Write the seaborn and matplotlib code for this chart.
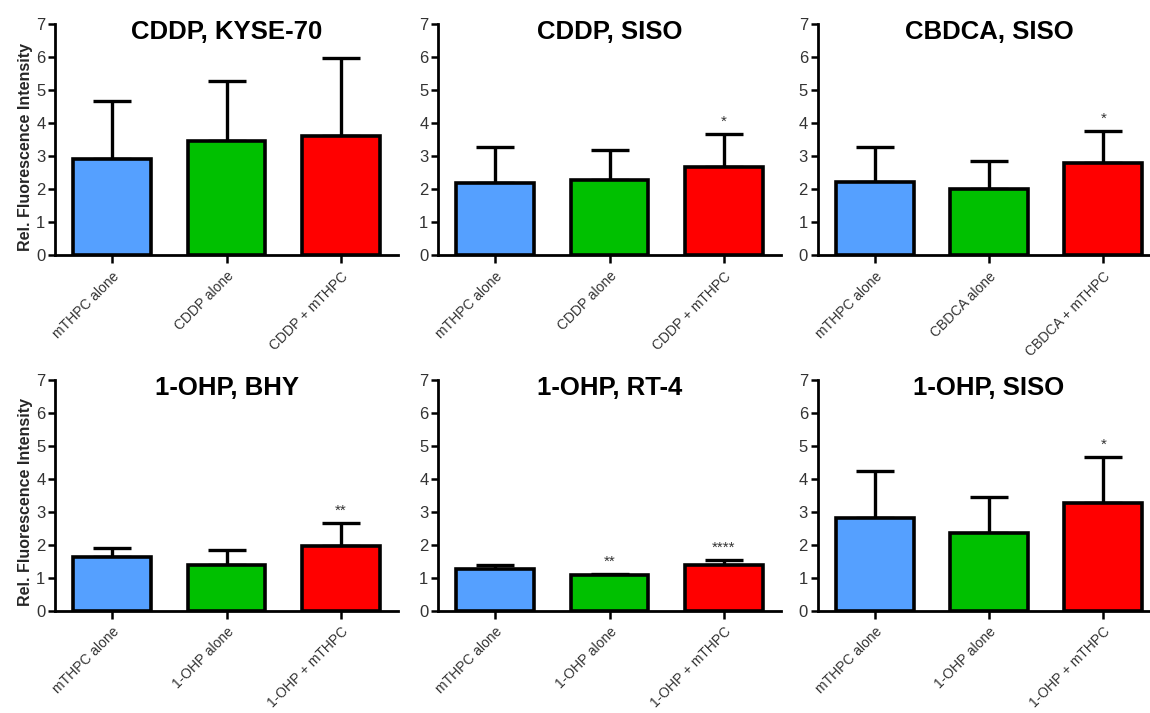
import matplotlib
matplotlib.use("Agg")
import matplotlib.pyplot as plt
import seaborn as sns
import pandas as pd

# ---- data ----
titles = ["CDDP, KYSE-70", "CDDP, SISO", "CBDCA, SISO",
          "1-OHP, BHY", "1-OHP, RT-4", "1-OHP, SISO"]
cats_cddp = ["mTHPC alone", "CDDP alone", "CDDP + mTHPC"]
cats_cbdca = ["mTHPC alone", "CBDCA alone", "CBDCA + mTHPC"]
cats_ohp = ["mTHPC alone", "1-OHP alone", "1-OHP + mTHPC"]

means_p1 = [2.91, 3.45, 3.61]
tops_p1 = [4.68, 5.27, 5.98]
means_p2 = [2.19, 2.27, 2.66]
tops_p2 = [3.27, 3.18, 3.67]
means_p3 = [2.23, 2.01, 2.79]
tops_p3 = [3.28, 2.86, 3.75]
means_p4 = [1.64, 1.41, 1.98]
tops_p4 = [1.91, 1.86, 2.67]
means_p5 = [1.27, 1.08, 1.39]
tops_p5 = [1.40, 1.11, 1.54]
means_p6 = [2.83, 2.37, 3.26]
tops_p6 = [4.25, 3.45, 4.67]

sig_p1 = ["", "", ""]
sig_p2 = ["", "", "*"]
sig_p3 = ["", "", "*"]
sig_p4 = ["", "", "**"]
sig_p5 = ["", "**", "****"]
sig_p6 = ["", "", "*"]

yticks = [0, 1, 2, 3, 4, 5, 6, 7]
ylabel = "Rel. Fluorescence Intensity"
bar_colors = ["#55A0FF", "#00C000", "#FF0000"]

panels = [
    (cats_cddp, means_p1, tops_p1, sig_p1),
    (cats_cddp, means_p2, tops_p2, sig_p2),
    (cats_cbdca, means_p3, tops_p3, sig_p3),
    (cats_ohp, means_p4, tops_p4, sig_p4),
    (cats_ohp, means_p5, tops_p5, sig_p5),
    (cats_ohp, means_p6, tops_p6, sig_p6),
]

sns.set_style("white")
plt.rcParams['font.family'] = ['Liberation Sans', 'DejaVu Sans']

fig = plt.figure(figsize=(11.5, 7.13), dpi=100)
lefts = [0.048, 0.381, 0.711]
bottoms = [0.642, 0.143]
w, h = 0.298, 0.324

for i, (cats, means, tops, sigs) in enumerate(panels):
    r, c = divmod(i, 3)
    ax = fig.add_axes([lefts[c], bottoms[r], w, h])
    df = pd.DataFrame({"cat": cats, "val": means})
    sns.barplot(data=df, x="cat", y="val", hue="cat", palette=bar_colors,
                order=cats, hue_order=cats, width=0.68, edgecolor="black",
                linewidth=2.6, errorbar=None, legend=False, ax=ax, zorder=2,
                saturation=1)
    up = [t - m for t, m in zip(tops, means)]
    ax.errorbar(range(3), means, yerr=[[0, 0, 0], up], fmt="none",
                ecolor="black", elinewidth=2.4, capsize=14, capthick=2.4,
                zorder=1)
    for j, s in enumerate(sigs):
        if s:
            ax.text(j, tops[j] + 0.38, s, ha="center", va="center",
                    fontsize=11, color="#333333")
    ax.set_xlim(-0.5, 2.5)
    ax.set_ylim(0, 7)
    ax.set_yticks(yticks)
    ax.set_yticklabels([str(t) for t in yticks], fontsize=12, color="#333333")
    ax.set_xticks(range(3))
    ax.set_xticklabels(cats, rotation=45, ha="right", rotation_mode="anchor",
                       fontsize=10, color="#333333")
    ax.set_xlabel("")
    ax.set_ylabel(ylabel if c == 0 else "", fontsize=11.5, fontweight="bold")
    if c == 0:
        ax.yaxis.set_label_coords(-0.066, 0.47)
    for sp in ["top", "right"]:
        ax.spines[sp].set_visible(False)
    for sp in ["left", "bottom"]:
        ax.spines[sp].set_color("black")
        ax.spines[sp].set_linewidth(2.0)
    ax.tick_params(axis="both", direction="out", length=5, width=1.8,
                   colors="black", labelcolor="#333333", pad=2,
                   bottom=True, left=True)
    ax.tick_params(axis="x", length=6, pad=4)
    ax.set_facecolor("white")
    ax.text(0.5, 0.965, titles[i], transform=ax.transAxes, ha="center",
            va="center", fontsize=18.5, fontweight="bold", color="black")

fig.savefig("out.png", dpi=100, facecolor="white")
